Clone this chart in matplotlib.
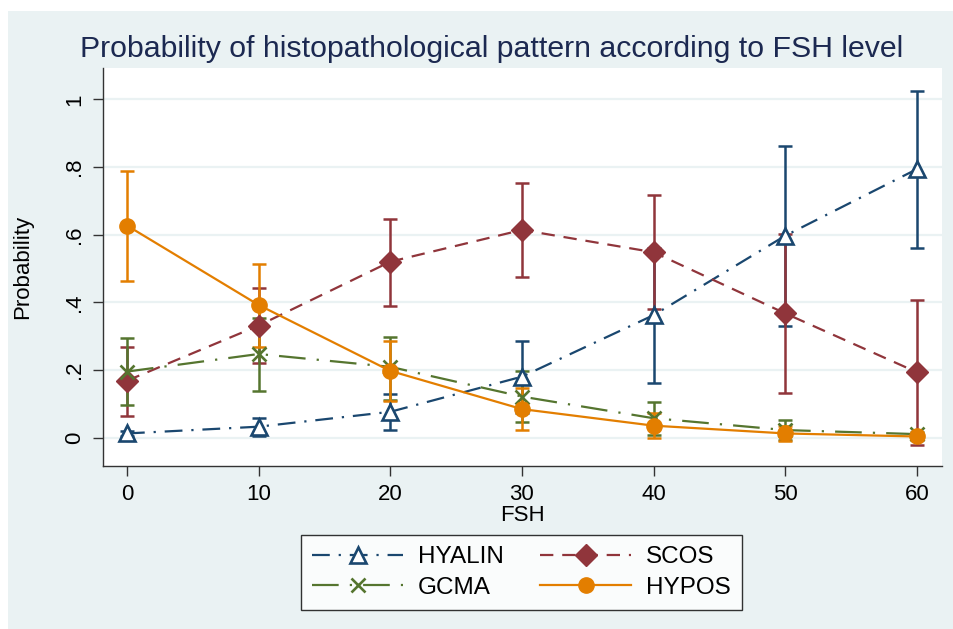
import matplotlib
matplotlib.use("Agg")
import matplotlib.pyplot as plt
from matplotlib.patches import Rectangle
import numpy as np

plt.rcParams['font.family'] = ['Liberation Sans', 'DejaVu Sans']

fsh = [0, 10, 20, 30, 40, 50, 60]

hyalin = [0.012, 0.032, 0.076, 0.180, 0.362, 0.597, 0.794]
hyalin_lo = [0.004, 0.003, 0.022, 0.072, 0.160, 0.330, 0.560]
hyalin_hi = [0.020, 0.058, 0.130, 0.285, 0.562, 0.862, 1.025]

scos = [0.168, 0.331, 0.520, 0.614, 0.548, 0.367, 0.193]
scos_lo = [0.065, 0.219, 0.390, 0.476, 0.379, 0.133, -0.022]
scos_hi = [0.269, 0.443, 0.646, 0.754, 0.717, 0.601, 0.407]

gcma = [0.195, 0.247, 0.209, 0.121, 0.057, 0.022, 0.010]
gcma_lo = [0.096, 0.138, 0.111, 0.045, 0.008, -0.008, 0.004]
gcma_hi = [0.293, 0.354, 0.298, 0.197, 0.106, 0.052, 0.016]

hypos = [0.627, 0.392, 0.197, 0.084, 0.035, 0.012, 0.003]
hypos_lo = [0.463, 0.269, 0.109, 0.022, -0.002, -0.010, -0.005]
hypos_hi = [0.788, 0.513, 0.285, 0.146, 0.072, 0.035, 0.010]

names = ["HYALIN", "SCOS", "GCMA", "HYPOS"]
colors = ["#1A476F", "#90353B", "#55752F", "#E37E00"]

W, H = 954, 629
fig = plt.figure(figsize=(W / 100, H / 100), dpi=100, facecolor="white")
bg = "#EAF2F3"
fig.patches.append(Rectangle((8 / W, 0), 1 - 8 / W, (H - 11) / H, transform=fig.transFigure,
                             facecolor=bg, edgecolor="none", zorder=-10))

ax = fig.add_axes([103 / W, (H - 466) / H, (942 - 103) / W, (466 - 68) / H])
ax.set_facecolor("white")
ax.set_xlim(-1.82, 61.9)
ax.set_ylim(-0.0843, 1.093)

for y in [0, 0.2, 0.4, 0.6, 0.8, 1.0]:
    ax.axhline(y, color=bg, lw=1.6, zorder=0)

series = [
    (hyalin, hyalin_lo, hyalin_hi, dict(marker="^", ms=11, mfc="white", mew=1.9,
                                         linestyle=(0, (8, 4, 1, 4)))),
    (scos, scos_lo, scos_hi, dict(marker="D", ms=11, linestyle=(0, (6, 4)))),
    (gcma, gcma_lo, gcma_hi, dict(marker="x", ms=10, mew=1.9, linestyle=(0, (12, 5, 1, 5)))),
    (hypos, hypos_lo, hypos_hi, dict(marker="o", ms=11, linestyle="-")),
]

handles = []
for (vals, lo, hi, st), name, c in zip(series, names, colors):
    vals = np.array(vals); lo = np.array(lo); hi = np.array(hi)
    ax.errorbar(fsh, vals, yerr=[vals - lo, hi - vals], fmt="none", ecolor=c,
                elinewidth=1.8, capsize=5, capthick=1.8, zorder=3)
    kw = dict(st)
    if "mfc" not in kw:
        kw["mfc"] = c
    h, = ax.plot(fsh, vals, color=c, lw=1.6, mec=c, label=name, zorder=4, **kw)
    handles.append(h)

for s in ["top", "right"]:
    ax.spines[s].set_visible(False)
for s in ["left", "bottom"]:
    ax.spines[s].set_color("#333333")
    ax.spines[s].set_linewidth(1.0)

ax.set_xticks([0, 10, 20, 30, 40, 50, 60])
ax.set_yticks([0, 0.2, 0.4, 0.6, 0.8, 1.0])
ax.set_yticklabels(["0", ".2", ".4", ".6", ".8", "1"], rotation=90, va="center")
ax.tick_params(axis="both", labelsize=16, length=7, width=1, color="#333333", pad=6)
ax.set_xlabel("FSH", fontsize=16, labelpad=0)
ax.set_ylabel("Probability", fontsize=16, labelpad=22)

fig.text(492 / W, 1 - 49 / H, "Probability of histopathological pattern according to FSH level",
         ha="center", va="center", fontsize=21.8, color="#1C2951")

order = [0, 2, 1, 3]
leg = fig.legend([handles[i] for i in order], [names[i] for i in order], ncol=2,
                 loc="center", bbox_to_anchor=(521.5 / W, 1 - 572.5 / H), fontsize=17.5,
                 frameon=True, fancybox=False, edgecolor="black", handlelength=3.75,
                 columnspacing=1.5, handletextpad=0.6, borderpad=0.45, labelspacing=0.35)
leg.get_frame().set_linewidth(1.0)
leg.get_frame().set_facecolor("white")

fig.savefig("out.png", dpi=100, facecolor="white")
